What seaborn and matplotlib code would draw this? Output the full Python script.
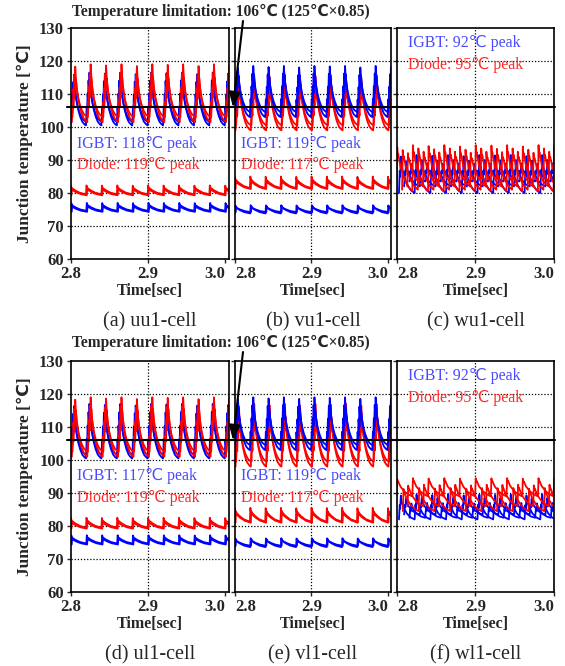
import numpy as np
import matplotlib
matplotlib.use('Agg')
import matplotlib.pyplot as plt
import seaborn as sns
from matplotlib.lines import Line2D
from matplotlib.patches import FancyArrowPatch

# panel captions and peak labels
captions = ['(a) uu1-cell', '(b) vu1-cell', '(c) wu1-cell',
            '(d) ul1-cell', '(e) vl1-cell', '(f) wl1-cell']
igbt_peak = [118, 119, 92, 117, 119, 92]
diode_peak = [119, 117, 95, 119, 117, 95]
limit_temp = 106

# one cycle of each waveform shape (phase in period, normalised level)
big_phase = [0.00, 0.04, 0.07, 0.10, 0.13, 0.16, 0.19, 0.22, 0.26, 0.32, 0.40, 0.50, 0.62, 0.76, 0.90, 1.00]
big_level = [0.00, 0.35, 0.25, 0.60, 0.50, 0.85, 0.70, 1.00, 0.80, 0.62, 0.45, 0.30, 0.17, 0.07, 0.02, 0.00]
small_phase = [0.00, 0.03, 0.06, 0.30, 0.60, 1.00]
small_level = [0.00, 1.00, 0.75, 0.45, 0.18, 0.00]
mid_phase = [0.00, 0.05, 0.08, 0.12, 0.16, 0.30, 0.50, 0.75, 1.00]
mid_level = [0.00, 0.60, 0.45, 1.00, 0.75, 0.50, 0.25, 0.08, 0.00]
saw_phase = [0.00, 0.04, 0.07, 0.10, 0.25, 0.50, 0.75, 1.00]
saw_level = [0.00, 1.00, 0.80, 0.85, 0.55, 0.28, 0.10, 0.00]
shapes = {'big': (big_phase, big_level), 'small': (small_phase, small_level),
          'mid': (mid_phase, mid_level), 'saw': (saw_phase, saw_level)}

period = 0.02
t_start = 2.7995
cycle_gain = [0.96, 1.0, 0.98, 1.0, 0.97, 1.0, 0.99, 1.0, 0.97, 1.0, 0.98]

# traces: (color, shape, low, high, phase shift)
uu1 = [('b', 'big', 100.5, 116.5, 0.00), ('b', 'big', 101.5, 113.5, 0.04),
       ('r', 'big', 101.5, 119.0, 0.08), ('r', 'big', 103.0, 115.0, 0.12),
       ('r', 'small', 79.6, 82.3, 0.00), ('r', 'small', 79.3, 81.5, 0.05),
       ('b', 'small', 74.6, 77.0, 0.02), ('b', 'small', 74.3, 76.3, 0.07)]
vu1 = [('r', 'big', 99.0, 115.5, 0.06), ('r', 'big', 100.5, 112.5, 0.10),
       ('b', 'big', 103.0, 118.5, 0.00), ('b', 'big', 104.5, 116.0, 0.04),
       ('r', 'small', 81.5, 85.0, 0.00), ('r', 'small', 81.2, 84.0, 0.06),
       ('b', 'small', 73.8, 76.3, 0.02), ('b', 'small', 74.2, 76.0, 0.07)]
wu1 = [('b', 'mid', 80.0, 91.5, 0.15), ('b', 'mid', 82.0, 90.0, 0.48), ('b', 'mid', 83.5, 89.0, 0.82),
       ('r', 'saw', 80.5, 94.5, 0.00), ('r', 'saw', 81.0, 93.5, 0.35), ('r', 'saw', 82.0, 92.5, 0.68)]
ul1 = [('b', 'big', 100.5, 117.0, 0.00), ('b', 'big', 101.5, 114.0, 0.04),
       ('r', 'big', 101.0, 119.0, 0.08), ('r', 'big', 102.5, 115.5, 0.12),
       ('r', 'small', 79.5, 82.5, 0.00), ('r', 'small', 79.2, 81.5, 0.05),
       ('b', 'small', 74.7, 77.2, 0.02), ('b', 'small', 74.4, 76.5, 0.07)]
vl1 = [('r', 'big', 98.0, 117.0, 0.06), ('r', 'big', 99.5, 113.0, 0.10),
       ('b', 'big', 103.0, 119.0, 0.00), ('b', 'big', 104.5, 116.0, 0.04),
       ('r', 'small', 81.3, 85.5, 0.00), ('r', 'small', 81.0, 84.5, 0.06),
       ('b', 'small', 73.6, 76.3, 0.02), ('b', 'small', 74.0, 76.0, 0.07)]
wl1 = [('b', 'mid', 82.0, 89.5, 0.15), ('b', 'mid', 83.5, 88.5, 0.48), ('b', 'mid', 82.5, 87.0, 0.82),
       ('r', 'saw', 89.0, 94.5, 0.00), ('r', 'saw', 84.5, 91.5, 0.40), ('r', 'saw', 86.0, 92.5, 0.70)]
traces = [uu1, vu1, wu1, ul1, vl1, wl1]

# text position of peak labels (x in axes fraction, y in data)
label_pos = [(0.04, 95.0), (0.04, 95.0), (0.07, 125.5), (0.04, 95.0), (0.04, 95.0), (0.07, 125.5)]

line_colors = {'b': '#0000ff', 'r': '#ff0000'}

sns.set_style('ticks')
plt.rcParams['font.family'] = ['Liberation Serif', 'DejaVu Sans']

fig = plt.figure(figsize=(5.65, 6.66), dpi=100)

col_left = [71 / 565, 235 / 565, 397 / 565]
col_width = [158 / 565, 156 / 565, 157 / 565]
row_bottom = [1 - 259 / 666, 1 - 592 / 666]
row_height = 231 / 666
xlims = [3.005, 3.004, 3.0]

axes = []
for i in range(6):
    r, c = divmod(i, 3)
    ax = fig.add_axes([col_left[c], row_bottom[r], col_width[c], row_height])
    axes.append(ax)
    for color, kind, lo, hi, sh in traces[i]:
        ph, lv = shapes[kind]
        xs, ys = [], []
        for k, g in enumerate(cycle_gain):
            for p, l in zip(ph, lv):
                xs.append(t_start + (k + p + sh) * period)
                ys.append(lo + (hi - lo) * l * g)
        sns.lineplot(x=xs, y=ys, ax=ax, color=line_colors[color], lw=1.3,
                     estimator=None, sort=False)
    ax.set_xlim(2.8, xlims[c])
    ax.set_ylim(60, 130)
    ax.set_yticks(np.arange(60, 131, 10))
    ax.set_xticks([2.8, 2.9, 3.0])
    ax.set_xticklabels(['2.8', '2.9', '3.0'], fontweight='bold', fontsize=12)
    tl = ax.get_xticklabels()
    tl[0].set_ha('center' if c == 0 else 'left')
    tl[2].set_ha('right')
    for y in range(70, 121, 10):
        ax.axhline(y, color='black', ls=(0, (1, 1.5)), lw=0.9, zorder=0)
    ax.axvline(2.9, color='black', ls=(0, (1, 1.5)), lw=0.9, zorder=0)
    if c == 0:
        ax.set_yticklabels([str(v) for v in range(60, 131, 10)], fontweight='bold', fontsize=12)
        ax.set_ylabel('Junction temperature [℃]', fontweight='bold', fontsize=12.5, labelpad=4)
    else:
        ax.set_yticklabels([])
        ax.set_ylabel('')
    ax.set_xlabel('Time[sec]', fontweight='bold', fontsize=11.5, labelpad=1)
    ax.tick_params(length=3, width=1, pad=2)
    for s in ax.spines.values():
        s.set_linewidth(1.2)
        s.set_color('black')
    lx, ly = label_pos[i]
    ax.text(lx, ly, f'IGBT: {igbt_peak[i]}℃ peak', transform=ax.get_yaxis_transform(),
            color='#4a4aff', fontsize=11.5, va='center')
    ax.text(lx, ly - 6.6, f'Diode: {diode_peak[i]}℃ peak', transform=ax.get_yaxis_transform(),
            color='#ff2a2a', fontsize=11.5, va='center')
    ax.text(0.5, -0.27, captions[i], transform=ax.transAxes, ha='center', va='center',
            fontsize=14.5)

# temperature limitation line and annotation for each row
inv = fig.transFigure.inverted()
for r in range(2):
    ax = axes[3 * r]
    _, yf = inv.transform(ax.transData.transform((2.8, limit_temp)))
    fig.add_artist(Line2D([67 / 565, 555 / 565], [yf, yf], color='black', lw=1.5))
    ytxt = 1 - (12 + 331 * r) / 666
    fig.text(221 / 565, ytxt, 'Temperature limitation: 106℃ (125℃×0.85)',
             ha='center', va='center', fontsize=11.2, fontweight='bold')
    fig.add_artist(FancyArrowPatch(
        (243 / 565, ytxt - 9 / 666), (233 / 565, yf), transform=fig.transFigure,
        arrowstyle='-|>,head_length=9,head_width=3.5', color='black', lw=1.5,
        shrinkA=0, shrinkB=0))

fig.savefig('out.png', dpi=100)
